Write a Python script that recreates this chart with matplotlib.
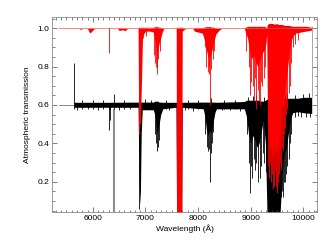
import matplotlib
matplotlib.use("Agg")
import matplotlib.pyplot as plt
from matplotlib.ticker import MultipleLocator

plt.rcParams["font.family"] = ["Liberation Sans", "DejaVu Sans"]

# Model transmission (red): wavelength, lower and upper envelope
red_wl = [5350, 5740, 5770, 5800, 5900, 5920, 5950, 5990, 6040, 6470, 6500, 6560,
          6620, 6660, 6860, 6870, 6885, 6905, 6925, 6945, 7000, 7080, 7150, 7180,
          7200, 7215, 7235, 7260, 7290, 7320, 7350, 7585, 7592, 7690, 7700, 7760,
          7900, 7930, 8000, 8080, 8110, 8150, 8180, 8200, 8240, 8270, 8300, 8340,
          8400, 8450, 8880, 8900, 8940, 8980, 9020, 9060, 9100, 9140, 9180, 9220,
          9260, 9290, 9305, 9320, 9350, 9390, 9420, 9460, 9490, 9520, 9560, 9600,
          9640, 9680, 9720, 9760, 9800, 9860, 9950, 10050, 10160]
red_lo = [1.0, 1.0, 0.993, 1.0, 1.0, 0.985, 0.975, 0.988, 1.0, 1.0, 0.988, 0.992,
          0.988, 1.0, 1.0, 0.62, 0.50, 0.50, 0.72, 0.96, 0.985, 0.985, 0.98, 0.94,
          0.90, 0.86, 0.88, 0.92, 0.95, 0.98, 1.0, 1.0, 0.04, 0.04, 0.985, 1.0,
          1.0, 0.985, 0.98, 0.975, 0.95, 0.90, 0.86, 0.84, 0.86, 0.89, 0.93, 0.97,
          0.99, 1.0, 1.0, 0.98, 0.95, 0.88, 0.84, 0.86, 0.82, 0.80, 0.84, 0.87,
          0.89, 0.92, 0.97, 0.55, 0.40, 0.36, 0.32, 0.38, 0.34, 0.38, 0.46, 0.56,
          0.66, 0.74, 0.84, 0.92, 0.96, 0.975, 0.98, 0.985, 0.99]
red_hi = [1.0, 1.0, 1.0, 1.0, 1.0, 1.0, 1.0, 1.0, 1.0, 1.0, 1.0, 1.0,
          1.0, 1.0, 1.0, 1.005, 1.005, 1.005, 1.005, 1.005, 1.005, 1.005, 1.005, 1.008,
          1.008, 1.008, 1.008, 1.005, 1.005, 1.0, 1.0, 1.0, 1.005, 1.005, 1.005, 1.0,
          1.0, 1.0, 1.003, 1.003, 1.005, 1.008, 1.008, 1.008, 1.008, 1.005, 1.005, 1.0,
          1.0, 1.0, 1.0, 1.005, 1.01, 1.01, 1.01, 1.01, 1.01, 1.01, 1.01, 1.01,
          1.01, 1.005, 1.005, 1.02, 1.025, 1.025, 1.025, 1.02, 1.025, 1.02, 1.02, 1.02,
          1.015, 1.015, 1.015, 1.012, 1.01, 1.01, 1.01, 1.01, 1.005]
red_spike_wl = [6310, 6880, 6886, 6960, 7020, 7170, 7190, 7205, 7212, 7225, 7245,
                7270, 8130, 8160, 8185, 8200, 8215, 8228, 8250, 8275, 8300,
                8920, 8960, 8990, 9010, 9035, 9060, 9085, 9110, 9130, 9150, 9170,
                9195, 9220, 9250, 9275, 9330, 9345, 9360, 9380, 9400, 9415, 9440,
                9460, 9480, 9500, 9520, 9540, 9560, 9580, 9600, 9620, 9640, 9660,
                9680, 9700, 9720, 9740, 9770, 9800, 9850, 9900]
red_spike_lo = [0.87, 0.45, 0.48, 0.95, 0.96, 0.86, 0.82, 0.80, 0.76, 0.80, 0.84,
                0.88, 0.90, 0.80, 0.77, 0.76, 0.80, 0.60, 0.79, 0.84, 0.88,
                0.88, 0.80, 0.65, 0.72, 0.70, 0.62, 0.74, 0.58, 0.68, 0.62, 0.60,
                0.72, 0.70, 0.74, 0.80, 0.28, 0.22, 0.30, 0.20, 0.24, 0.16, 0.18,
                0.26, 0.17, 0.14, 0.20, 0.24, 0.30, 0.26, 0.38, 0.36, 0.45, 0.48,
                0.55, 0.58, 0.66, 0.70, 0.82, 0.90, 0.92, 0.94]

# Observed spectrum (black), offset to 0.6
blk_wl = [5645, 6300, 6315, 6330, 6860, 6875, 6890, 6905, 6920, 6940, 7150, 7180,
          7200, 7215, 7235, 7260, 7290, 7330, 7580, 7592, 7690, 7700, 8100, 8130,
          8160, 8190, 8220, 8250, 8280, 8320, 8350, 8880, 8920, 8960, 9000, 9040,
          9080, 9120, 9160, 9200, 9240, 9280, 9310, 9560, 9600, 9640, 9680, 9720,
          9760, 9800, 9900, 10000, 10160]
blk_lo = [0.588, 0.588, 0.57, 0.588, 0.588, 0.30, 0.08, 0.15, 0.45, 0.575, 0.575, 0.55,
          0.50, 0.45, 0.47, 0.50, 0.55, 0.58, 0.588, 0.04, 0.04, 0.588, 0.58, 0.54,
          0.47, 0.44, 0.47, 0.45, 0.50, 0.56, 0.58, 0.58, 0.54, 0.45, 0.40, 0.44,
          0.42, 0.38, 0.40, 0.46, 0.52, 0.40, 0.04, 0.04, 0.25, 0.35, 0.38, 0.46,
          0.53, 0.56, 0.565, 0.56, 0.555]
blk_hi = [0.614, 0.614, 0.614, 0.614, 0.615, 0.615, 0.615, 0.615, 0.615, 0.615, 0.615, 0.62,
          0.62, 0.62, 0.62, 0.615, 0.615, 0.614, 0.614, 0.614, 0.614, 0.614, 0.615, 0.615,
          0.615, 0.615, 0.615, 0.615, 0.615, 0.615, 0.614, 0.618, 0.625, 0.625, 0.625, 0.625,
          0.625, 0.625, 0.625, 0.62, 0.62, 0.625, 0.63, 0.635, 0.635, 0.635, 0.635, 0.635,
          0.635, 0.635, 0.635, 0.64, 0.64]
blk_spike_wl = [6315, 6320, 6880, 7190, 7205, 7222, 7240, 7265, 8140, 8165, 8180,
                8200, 8228, 8245, 8265, 8290, 8930, 8960, 8987, 9010, 9030, 9060,
                9090, 9110, 9140, 9170, 9200, 9230, 9260, 9290, 9580, 9600, 9620,
                9640, 9660, 9680, 9700, 9720, 9745, 9770]
blk_spike_lo = [0.47, 0.52, 0.06, 0.45, 0.40, 0.36, 0.38, 0.42, 0.45, 0.38, 0.36,
                0.37, 0.20, 0.35, 0.40, 0.46, 0.45, 0.30, 0.14, 0.28, 0.22, 0.32,
                0.26, 0.30, 0.20, 0.22, 0.28, 0.35, 0.30, 0.25, 0.12, 0.15, 0.12,
                0.20, 0.20, 0.24, 0.28, 0.32, 0.40, 0.45]
blk_up_wl = [5645, 5800, 6000, 6200, 6410, 6600, 7000, 7100, 7400, 7800, 8000, 8250,
             8500, 8700, 8950, 9050, 9100, 9250, 9450, 9650, 9700, 9850, 10000, 10100]
blk_up_hi = [0.82, 0.625, 0.628, 0.625, 0.655, 0.624, 0.632, 0.628, 0.624, 0.626, 0.628, 0.635,
             0.625, 0.628, 0.64, 0.645, 0.65, 0.64, 0.665, 0.655, 0.66, 0.65, 0.655, 0.66]
blk_dn_wl = [5700, 5900, 6100, 6500, 6700, 7450, 7750, 7900, 8450, 8600, 8800,
             9850, 9900, 9950, 10050, 10120]
blk_dn_lo = [0.575, 0.578, 0.576, 0.575, 0.578, 0.572, 0.575, 0.57, 0.575, 0.576, 0.57,
             0.54, 0.545, 0.54, 0.535, 0.54]

fig = plt.figure(figsize=(3.34, 2.46), dpi=100)
ax = fig.add_axes([0.157, 0.138, 0.792, 0.794])

# black spectrum first, red model drawn on top
ax.plot([5350, 5645], [0.6, 0.6], color="0.45", lw=0.6)
ax.vlines(6405, 0.04, 0.58, color="0.55", lw=1.5)
ax.fill_between(blk_wl, blk_lo, blk_hi, color="black", lw=0)
ax.vlines(blk_spike_wl, blk_spike_lo, 0.6, color="black", lw=0.6)
ax.vlines(blk_up_wl, 0.58, blk_up_hi, color="black", lw=0.6)
ax.vlines(blk_dn_wl, blk_dn_lo, 0.6, color="black", lw=0.6)

ax.plot([5350, 10160], [1.0, 1.0], color="#ff7070", lw=0.6)
ax.fill_between(red_wl, red_lo, red_hi, color="red", lw=0)
ax.vlines(red_spike_wl, red_spike_lo, 1.0, color="red", lw=0.6)
ax.vlines(10160, 0.64, 1.01, color="0.6", lw=0.6)

ax.set_xlim(5233, 10260)
ax.set_ylim(0.042, 1.06)
ax.xaxis.set_major_locator(MultipleLocator(1000))
ax.xaxis.set_minor_locator(MultipleLocator(100))
ax.yaxis.set_minor_locator(MultipleLocator(0.05))
ax.set_yticks([0.2, 0.4, 0.6, 0.8, 1.0])
ax.set_yticklabels(["0.2", "0.4", "0.6", "0.8", "1.0"])
ax.tick_params(which="both", direction="in", top=True, right=True,
               labelsize=6, color="0.3", width=0.5, pad=2)
ax.tick_params(which="major", length=3.5)
ax.tick_params(which="minor", length=1.8)
for sp in ax.spines.values():
    sp.set_color("0.55")
    sp.set_linewidth(0.6)

ax.set_xlabel("Wavelength (Å)", fontsize=6, labelpad=2)
ax.set_ylabel("Atmospheric transmission", fontsize=6, labelpad=5)

fig.savefig("out.png", dpi=100)
